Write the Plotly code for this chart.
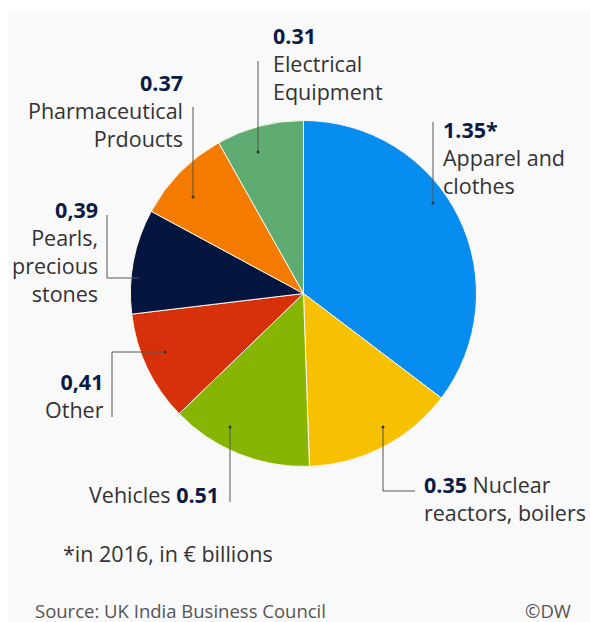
import plotly.graph_objects as go

# ---- data ----
categories = ["Apparel and clothes", "Nuclear reactors, boilers", "Vehicles", "Other",
              "Pearls, precious stones", "Pharmaceutical Prdoucts", "Electrical Equipment"]
# slice sizes as drawn in the picture (shares, € billions scale)
slice_values = [1.30, 0.52, 0.49, 0.38, 0.36, 0.33, 0.30]
# values as printed on the labels
label_values = ["1.35*", "0.35", "0.51", "0,41", "0,39", "0.37", "0.31"]
colors = ["#078cf0", "#f7c000", "#86b504", "#d7310b", "#041640", "#f47b00", "#5fac73"]

W, H = 590, 622
NAVY = "#0b1b45"
TXT = "#333333"
FONT = "Open Sans"
FS = 21.5

cx, cy, R = 303.5, 293.5, 173
fig = go.Figure()
fig.add_trace(go.Pie(
    labels=categories, values=slice_values, sort=False, direction="clockwise", rotation=0,
    marker=dict(colors=colors, line=dict(color="#fbf7e8", width=1)),
    textinfo="none", hoverinfo="label+value", showlegend=False,
    domain=dict(x=[(cx - R) / W, (cx + R) / W], y=[1 - (cy + R) / H, 1 - (cy - R) / H]),
))

def num(v):
    return "<b><span style='color:%s'>%s</span></b>" % (NAVY, v)

def lbl(x, y, text, anchor, color=TXT, size=FS):
    fig.add_annotation(x=x, y=y, xref="x", yref="y", text=text, align=anchor,
                       showarrow=False, xanchor=anchor, yanchor="middle",
                       font=dict(family=FONT, size=size, color=color))

lbl(271, 63.5, num(label_values[6]) + "<br>Electrical<br>Equipment", "left")
lbl(185, 110.5, num(label_values[5]) + "<br>Pharmaceutical<br>Prdoucts", "right")
lbl(100, 251, num(label_values[4]) + "<br>Pearls,<br>precious<br>stones", "right")
lbl(106, 395.5, num(label_values[3]) + "<br>Other", "right")
lbl(221, 494, "Vehicles " + num(label_values[2]), "right")
lbl(422, 498, num(label_values[1]) + " Nuclear<br>reactors, boilers", "left")
lbl(441, 157, num(label_values[0]) + "<br>Apparel and<br>clothes", "left")

# footnotes
lbl(61, 553, "*in 2016, in € billions", "left")
lbl(33, 610, "Source: UK India Business Council", "left", color="#555555", size=18.5)
lbl(573, 610, "©DW", "right", color="#555555", size=18.5)

# leader lines (polyline points, last point is the dot inside the slice)
leaders = [
    [(258, 61), (258, 152)],
    [(193, 107), (193, 197)],
    [(107, 215), (107, 278), (138, 278)],
    [(112, 417), (112, 352), (165, 352)],
    [(230, 502), (230, 427)],
    [(415, 491), (383, 491), (383, 427)],
    [(433, 122), (433, 203)],
]
shapes = [dict(type="rect", xref="x", yref="y", x0=8, y0=12, x1=W, y1=H,
               fillcolor="#f9f9f9", line=dict(width=0), layer="below")]
for pts in leaders:
    path = "M " + " L ".join("%g,%g" % p for p in pts)
    shapes.append(dict(type="path", xref="x", yref="y", path=path,
                       line=dict(color="#555555", width=1)))
    dx, dy = pts[-1]
    shapes.append(dict(type="circle", xref="x", yref="y", x0=dx - 1.5, x1=dx + 1.5,
                       y0=dy - 1.5, y1=dy + 1.5, fillcolor="#333333", line=dict(width=0)))

fig.update_layout(
    width=W, height=H, margin=dict(l=0, r=0, t=0, b=0),
    paper_bgcolor="white", plot_bgcolor="rgba(0,0,0,0)",
    xaxis=dict(range=[0, W], visible=False, domain=[0, 1], fixedrange=True),
    yaxis=dict(range=[H, 0], visible=False, domain=[0, 1], fixedrange=True),
    shapes=shapes,
)
fig.write_html("out.html", config={"displayModeBar": False},
               post_script="document.body.style.margin='0';document.body.style.overflow='hidden';")
